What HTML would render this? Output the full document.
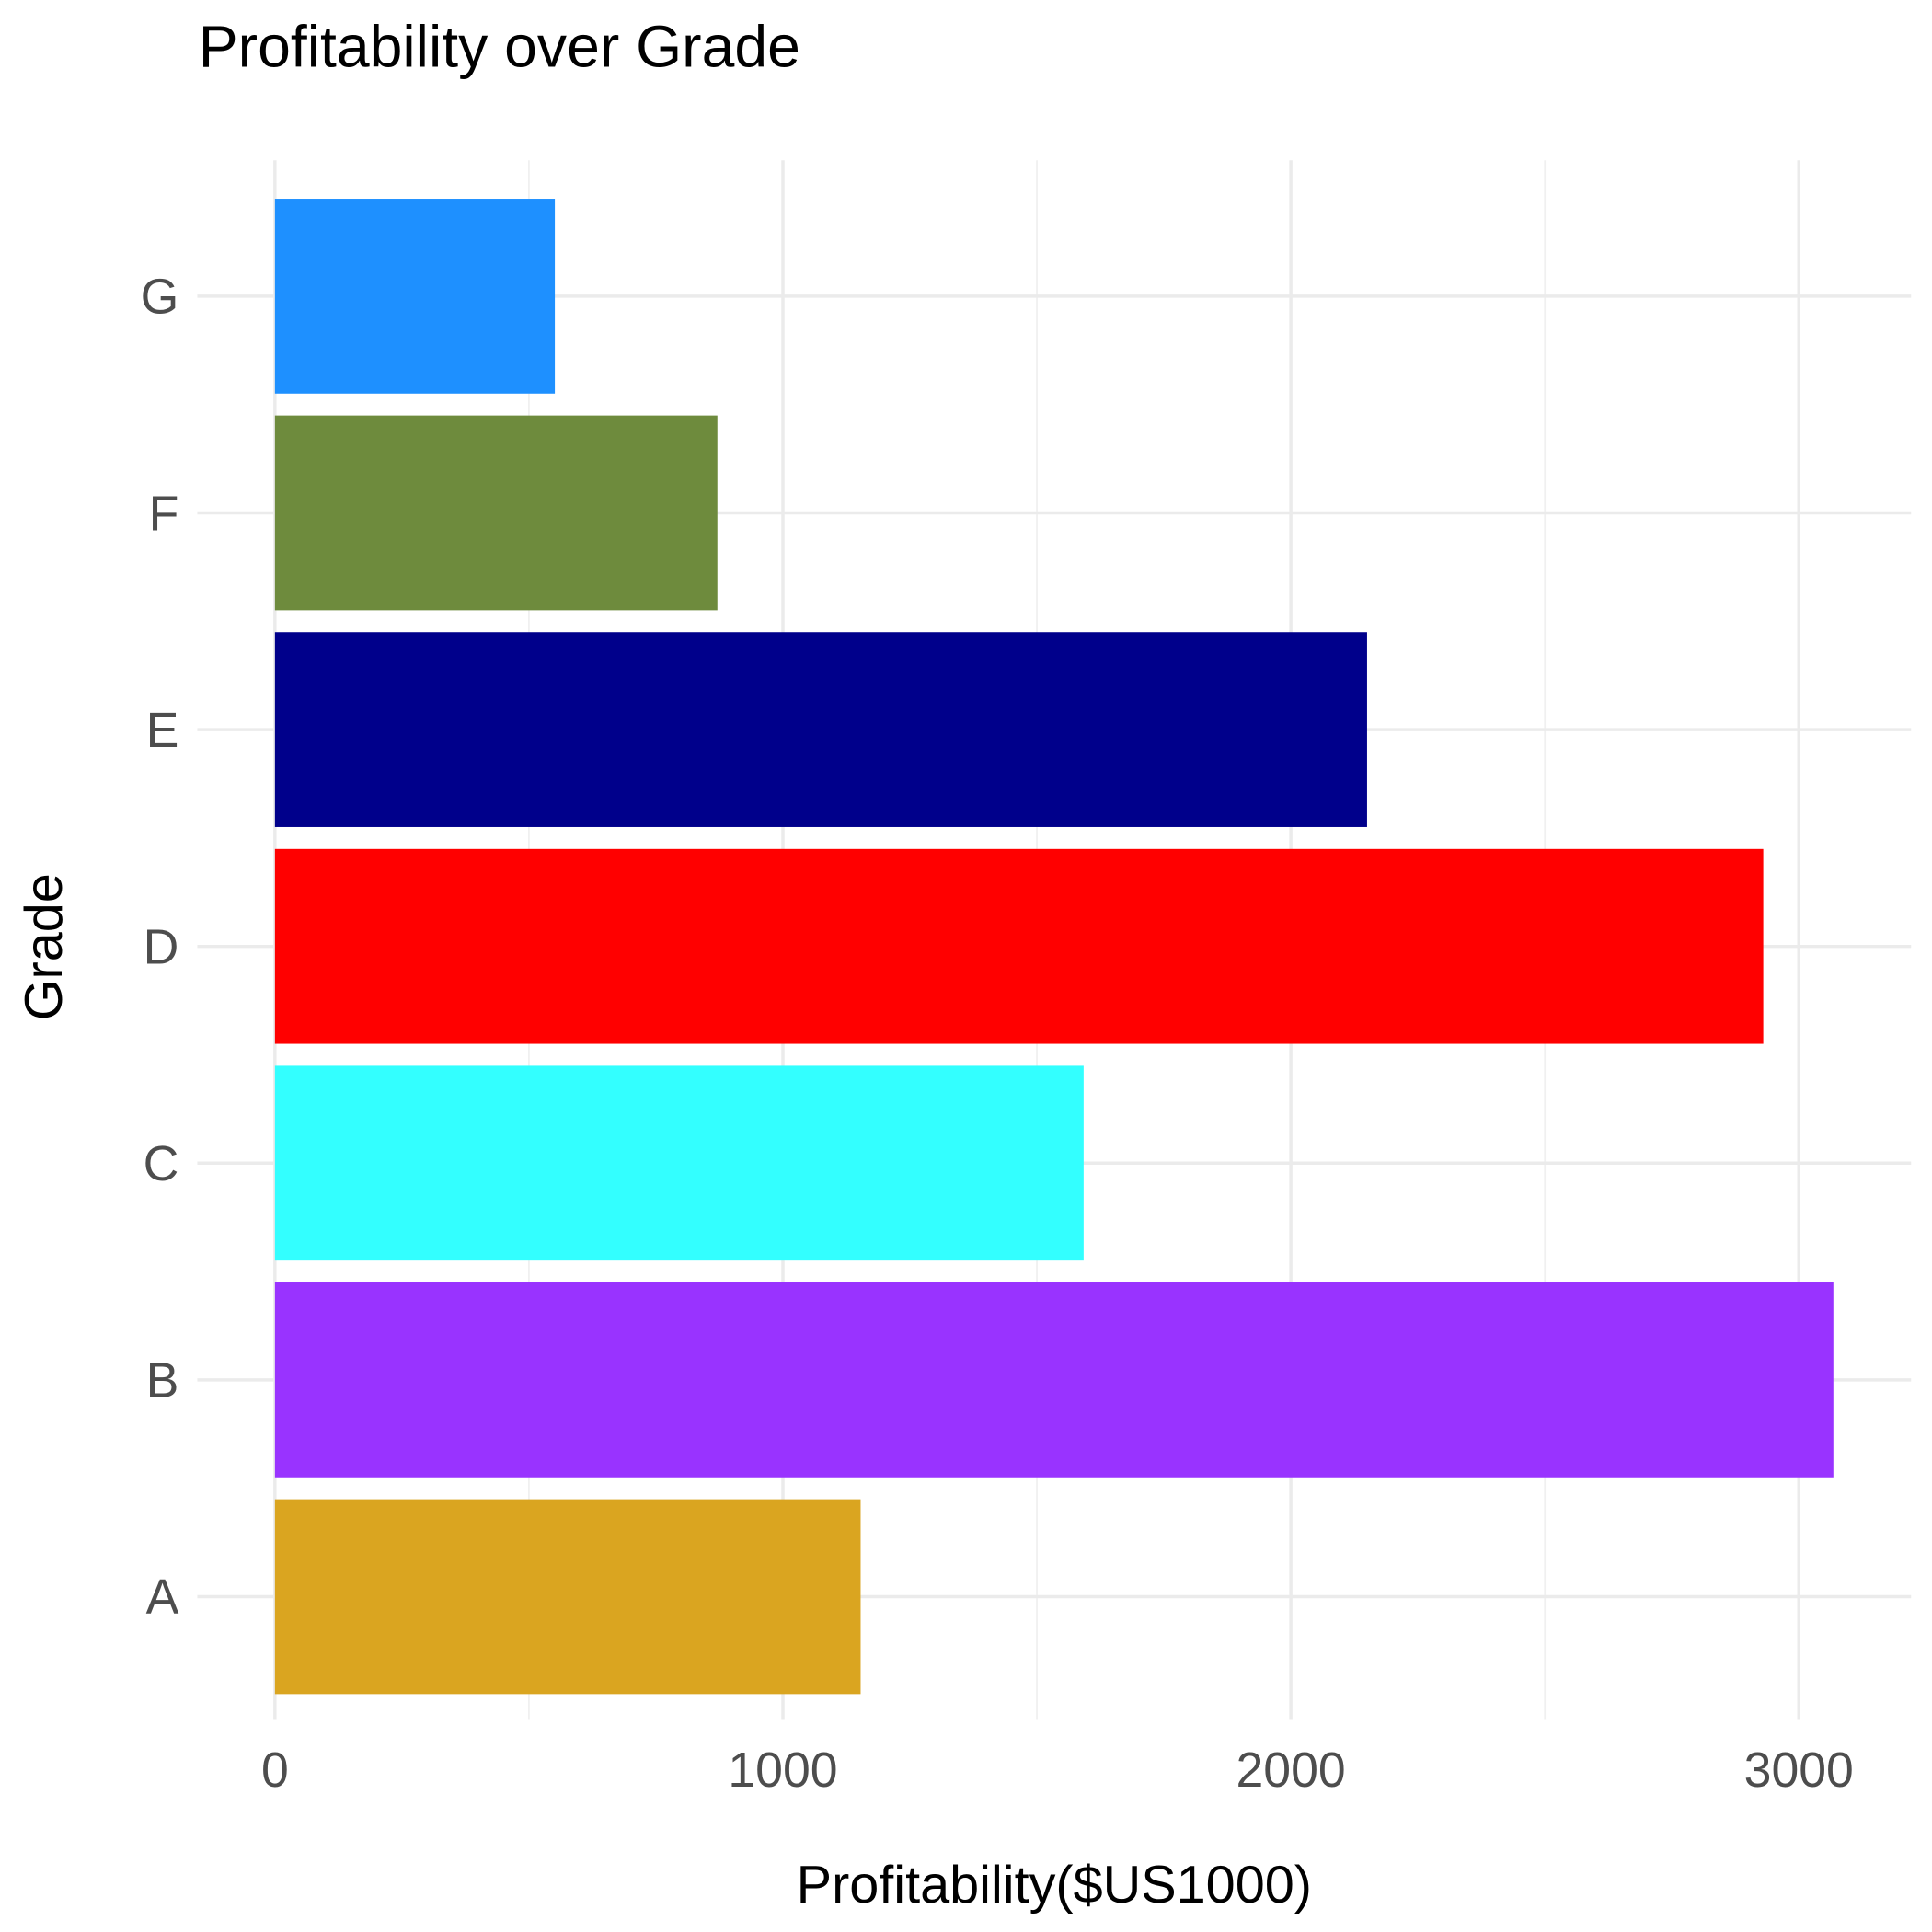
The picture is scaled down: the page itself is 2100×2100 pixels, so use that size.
<!DOCTYPE html>
<html><head><meta charset="utf-8"><style>html,body{margin:0;padding:0;background:#fff}svg{display:block}text{font-family:"Liberation Sans",sans-serif}</style></head>
<body>
<svg id="chart" width="2100" height="2100" viewBox="0 0 1567 1567" xmlns="http://www.w3.org/2000/svg">
<rect width="1567" height="1567" fill="#fff"/>
<g id="grid"></g>
<g id="bars"></g>
<g id="labels"></g>
<text x="161" y="54" font-size="48" fill="#000">Profitability over Grade</text>
<text x="855" y="1543" font-size="43" text-anchor="middle" fill="#000">Profitability($US1000)</text>
<text transform="translate(50,768) rotate(-90)" font-size="43" text-anchor="middle" fill="#000">Grade</text>
</svg>
<script>
const categories = ["A","B","C","D","E","F","G"];
const values = [1153, 3068, 1592, 2930, 2150, 871, 551];
const colors = ["#DAA520","#9933FF","#33FFFF","#FF0000","#00008B","#6E8B3D","#1E90FF"];
const xTicks = [0, 1000, 2000, 3000];
const xMinor = [500, 1500, 2500];
const NS = "http://www.w3.org/2000/svg";
const x = v => 223 + v * 0.412;
const y = i => 1295 - i * 175.8;
const bandH = 158;
const grid = document.getElementById('grid'), bars = document.getElementById('bars'), labels = document.getElementById('labels');
function mk(tag, attrs, parent){const e=document.createElementNS(NS,tag);for(const k in attrs)e.setAttribute(k,attrs[k]);parent.appendChild(e);return e;}
xMinor.forEach(v=>{
  const l=mk('line',{x1:x(v),x2:x(v),y1:130,y2:1395,stroke:'#f0f0f0','stroke-width':1.3},grid);
  
  
});
xTicks.forEach(v=>{
  const l=mk('line',{x1:x(v),x2:x(v),y1:130,y2:1395,stroke:'#ebebeb','stroke-width':2.6},grid);
  
  
  const t=mk('text',{x:x(v),y:1449,'font-size':40,fill:'#4d4d4d','text-anchor':'middle'},labels);
  t.textContent=v;
  
  
});
categories.forEach((c,i)=>{
  const l=mk('line',{x1:160,x2:1550,y1:y(i),y2:y(i),stroke:'#ebebeb','stroke-width':2.6},grid);
  
  
  const r=mk('rect',{x:x(0),y:y(i)-bandH/2,width:x(values[i])-x(0),height:bandH,fill:colors[i]},bars);
  
  
  const t=mk('text',{x:145,y:y(i)+14,'font-size':40,fill:'#4d4d4d','text-anchor':'end'},labels);
  t.textContent=c;
  
  
});
</script>
</body></html>
